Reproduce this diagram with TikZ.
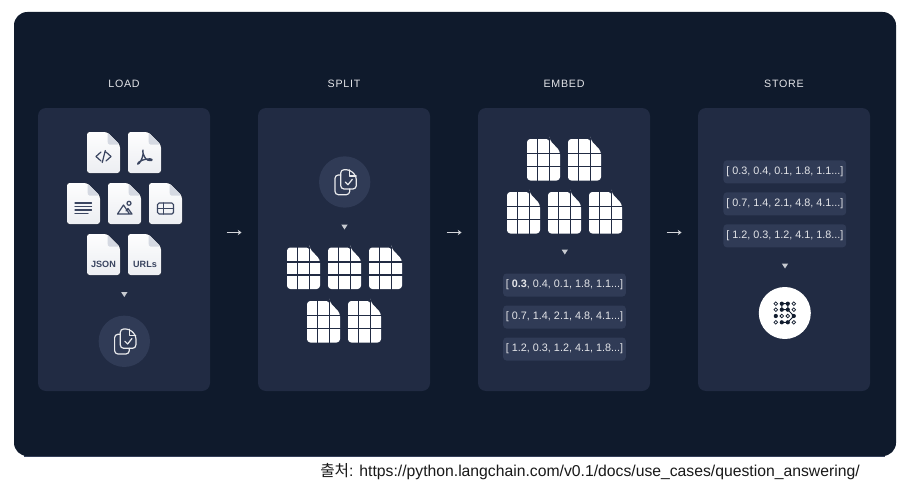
\documentclass[tikz,border=0pt]{standalone}
\usepackage{fontspec}
\setmainfont{Liberation Sans}
\newfontfamily\krfont{Noto Sans CJK KR}
\newfontfamily\titlefont[LetterSpace=7]{Liberation Sans}
\usepackage{tikz}
\usetikzlibrary{arrows.meta,positioning,calc}
\definecolor{boardbg}{HTML}{0F1A2C}
\definecolor{panelbg}{HTML}{212B43}
\definecolor{tagbg}{HTML}{303B56}
\definecolor{inkdark}{HTML}{3A4560}
\definecolor{docfold}{HTML}{D5D9E2}
\definecolor{dotink}{HTML}{111C2E}

\begin{document}
\begin{tikzpicture}[
  x=0.75pt, y=-0.75pt,
  panelbox/.style={rectangle, fill=panelbg, rounded corners=6pt, minimum width=129pt, minimum height=212.25pt, inner sep=0pt, outer sep=0pt},
  steptitle/.style={font=\titlefont\fontsize{8}{10}\selectfont, text=white!88!panelbg, inner sep=0pt},
  tagbox/.style={rectangle, fill=tagbg, rounded corners=2.5pt, minimum width=92pt, minimum height=17.25pt, inner sep=0pt, outer sep=0pt, font=\fontsize{8.1}{10}\selectfont, text=white!88!panelbg},
  roundicon/.style={circle, fill=tagbg, minimum size=38.5pt, inner sep=0pt},
  flowarr/.style={-{Stealth[length=2.8pt,width=4pt]}, line width=0.5pt, white!80!panelbg},
  tinytri/.style={fill=white!75!panelbg},
  iconline/.style={draw=inkdark, line width=0.9pt, line cap=round, line join=round},
  checkline/.style={draw=white!90!panelbg, line width=0.9pt, line join=round, line cap=round},
  filedoc/.pic={
    \fill[top color=white!96!docfold, bottom color=white!55!docfold, rounded corners=2pt]
      (0,0) -- (20,0) -- (33,13) -- (33,41) -- (0,41) -- cycle;
    \fill[docfold] (20.5,0.5) -- (20.5,8) [rounded corners=1pt] -- (21,12.5) -- (32.5,12.5) -- cycle;
  },
  griddoc/.pic={
    \fill[white, rounded corners=2.5pt] (0,0) -- (22.5,0) -- (22.5,1) -- (33,12) -- (33,41.5) -- (0,41.5) -- cycle;
    \draw[panelbg, line width=1.1pt] (10.5,-1) -- (10.5,43) (22.5,-1) -- (22.5,43)
      (-1,14.5) -- (34,14.5) (-1,27.5) -- (34,27.5);
  },
  copycheck/.pic={
    \draw[checkline, rounded corners=2.5pt] (-4,-7) -- (-9.7,-7) -- (-9.7,12.7) -- (5,12.7) -- (5,7);
    \draw[checkline, rounded corners=2.5pt] (-4,-12.3) -- (5,-12.3) -- (11.6,-6) -- (11.6,7) -- (-4,7) -- cycle;
    \draw[checkline] (5,-12) -- (5,-6) -- (11.4,-6);
    \draw[checkline] (0.6,0) -- (3.3,2.7) -- (7.6,-2.7);
  },
  downtri/.pic={\fill[tinytri] (-3.2,-2.5) -- (3.2,-2.5) -- (0,2.5) -- cycle;},
  opendot/.pic={\draw[dotink, line width=0.55pt, fill=white] (0,0) circle (1.8);},
  fulldot/.pic={\fill[dotink] (0,0) circle (2.1);}
]
% Background board
\useasboundingbox (0,0) rectangle (903,485);
\fill[white] (0,0) rectangle (903,485);
\fill[inkdark] (24,457) -- (885,457) -- (885,450) -- (24,450) -- cycle;
\node[rectangle, fill=boardbg, rounded corners=10pt, minimum width=661.5pt, minimum height=333pt, inner sep=0pt, outer sep=0pt] (board) at (455,234) {};

% Panels
\node[panelbox] (load) at (124,249.5) {};
\node[panelbox, right=36pt of load] (split) {};
\node[panelbox, right=36pt of split] (embed) {};
\node[panelbox, right=36pt of embed] (store) {};

% Titles
\node[steptitle, above=15pt of load] (loadtitle) {LOAD};
\node[steptitle, above=15pt of split] (splittitle) {SPLIT};
\node[steptitle, above=15pt of embed] (embedtitle) {EMBED};
\node[steptitle, above=15pt of store] (storetitle) {STORE};

% Arrows between panels
\coordinate (a1) at (226.5,232.5);
\coordinate (a2) at (241.5,232.5);
\coordinate (b1) at (446.5,232.5);
\coordinate (b2) at (461.5,232.5);
\coordinate (c1) at (666.5,232.5);
\coordinate (c2) at (681.5,232.5);
\draw[flowarr] (a1) -- (a2);
\draw[flowarr] (b1) -- (b2);
\draw[flowarr] (c1) -- (c2);

% LOAD: source files
\foreach \px/\py in {87/132,128/132,67/183,108/183,149/183,87/234,128/234}
  \pic at (\px,\py) {filedoc};
% code
\begin{scope}[shift={(87,132)}]
  \draw[iconline] (14,20) -- (9,24.5) -- (14,29) (19,20) -- (24,24.5) -- (19,29) (18.3,18.5) -- (15.3,30.5);
\end{scope}
% pdf
\begin{scope}[shift={(128,132)}]
  \draw[iconline, line width=1pt] (15,18) .. controls (14,19) and (16,25) .. (18,27) .. controls (20,29) and (25,29) .. (24,27.5) .. controls (23,26) and (15,27) .. (11,30) .. controls (9,32) and (9.5,33) .. (11,31.5) .. controls (13,29.5) and (16,23) .. (15,18);
\end{scope}
% text lines
\begin{scope}[shift={(67,183)}]
  \draw[iconline] (8,20) -- (24.5,20) (8,23.5) -- (24.5,23.5) (8,27) -- (24.5,27) (8,30.5) -- (21,30.5);
\end{scope}
% image
\begin{scope}[shift={(108,183)}]
  \draw[iconline] (9.5,31) -- (15.5,22) -- (21.5,31) (9.5,31) -- (24,31) -- (20,25.5) -- (18,28);
  \draw[iconline] (21,20.3) circle (2);
\end{scope}
% table
\begin{scope}[shift={(149,183)}]
  \draw[iconline, rounded corners=1.2pt] (8.5,20) rectangle (24.5,31);
  \draw[iconline] (8.5,25.5) -- (24.5,25.5) (14.5,20) -- (14.5,31);
\end{scope}
\node[font=\bfseries\fontsize{6.8}{8}\selectfont, text=inkdark, inner sep=0pt] (jsonlabel) at (103.5,264) {JSON};
\node[font=\bfseries\fontsize{6.8}{8}\selectfont, text=inkdark, inner sep=0pt] (urlslabel) at (145,264) {URLs};
\pic at (124.3,294.5) {downtri};
\node[roundicon] (loaddone) at (124.3,341.3) {};
\pic at (loaddone.center) {copycheck};

% SPLIT: chunks
\node[roundicon] (splitdone) at (344.7,182) {};
\pic at (splitdone.center) {copycheck};
\pic at (344.5,227) {downtri};
\foreach \px/\py in {287/247.5,328/247.5,369/247.5,307/301,348/301}
  \pic at (\px,\py) {griddoc};

% EMBED: chunks and vectors
\foreach \px/\py in {527/139,568/139,507/192,548/192,589/192}
  \pic at (\px,\py) {griddoc};
\pic at (564.8,252) {downtri};
\node[tagbox] (etag1) at (564.5,285) {[ \textbf{0.3}, 0.4, 0.1, 1.8, 1.1...]};
\node[tagbox, below=6.75pt of etag1] (etag2) {[ 0.7, 1.4, 2.1, 4.8, 4.1...]};
\node[tagbox, below=6.75pt of etag2] (etag3) {[ 1.2, 0.3, 1.2, 4.1, 1.8...]};

% STORE: vectors and database
\node[tagbox] (stag1) at (784.8,171.8) {[ 0.3, 0.4, 0.1, 1.8, 1.1...]};
\node[tagbox, below=6.75pt of stag1] (stag2) {[ 0.7, 1.4, 2.1, 4.8, 4.1...]};
\node[tagbox, below=6.75pt of stag2] (stag3) {[ 1.2, 0.3, 1.2, 4.1, 1.8...]};
\pic at (785,266) {downtri};
\node[circle, fill=white, minimum size=39pt, inner sep=0pt] (vecstore) at (784.8,313) {};
\begin{scope}[shift={(vecstore.center)}]
  \draw[dotink, line width=0.7pt] (-3,-9.3) -- (3,-9.3) (-3,-9.3) -- (-3,-3.3) (3,-9.3) -- (3,-3.3) (-3,-3.3) -- (3,-3.3)
    (-3,9.3) -- (3,9.3) (3,9.3) -- (9,3) (3,-3.3) -- (9,3);
  \foreach \dx/\dy in {-9/-9.3,9/-9.3,-9/-3.3,9/-3.3,-3/3,3/3,-9/9.3,9/9.3}
    \pic at (\dx,\dy) {opendot};
  \foreach \dx/\dy in {-3/-9.3,3/-9.3,-3/-3.3,3/-3.3,-9/3,9/3,-3/9.3,3/9.3}
    \pic at (\dx,\dy) {fulldot};
\end{scope}

% Source line
\node[anchor=west, font=\fontsize{11.8}{13}\selectfont, text=black!90, inner sep=0pt] (source) at (320,472) {{\krfont 출처}: https://python.langchain.com/v0.1/docs/use\_cases/question\_answering/};
\end{tikzpicture}
\end{document}
